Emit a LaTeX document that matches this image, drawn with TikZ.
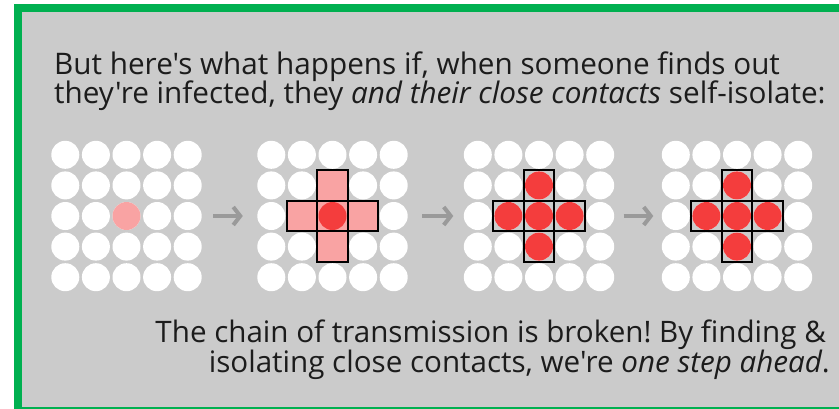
\documentclass[tikz,border=0pt]{standalone}
\usepackage{fontspec}
\newfontfamily\opensans{Open Sans}
\usetikzlibrary{arrows.meta,calc}
\frenchspacing
\definecolor{framegreen}{HTML}{00B050}
\definecolor{panelgray}{HTML}{CBCBCB}
\definecolor{contactpink}{HTML}{F9A3A3}
\definecolor{sickred}{HTML}{F43D3D}
\definecolor{arrowgray}{HTML}{9A9A9A}
\definecolor{inkgray}{HTML}{1C1C1C}
\tikzset{
  gridbox/.style={minimum size=153bp, inner sep=0pt},
  person/.style={fill=white},
  cell/.style={draw=black, line width=2bp},
  step arrow/.style={draw=arrowgray, line width=4bp, -{Straight Barb[length=7bp, width=18bp]}},
  headline/.style={font=\opensans\fontsize{29.8}{32}\selectfont, text=inkgray, inner sep=0pt, anchor=base west},
  footline/.style={font=\opensans\fontsize{29.7}{32}\selectfont, text=inkgray, inner sep=0pt, anchor=base east}
}
\begin{document}
\begin{tikzpicture}[x=1bp, y=-1bp]
  \useasboundingbox (0,0) rectangle (839,408);
  \draw[framegreen, line width=8bp, fill=panelgray] (18,8) rectangle (843,411);

  % text
  \node[headline] (head1) at (54,74) {But here's what happens if, when someone finds out};
  \node[headline] (head2) at (54,103) {they're infected, they \textit{and their close contacts} self-isolate:};
  \node[footline] (foot1) at (826,342) {The chain of transmission is broken! By finding \&};
  \node[footline] (foot2) at (830,372) {isolating close contacts, we're \textit{one step ahead}.};

  % four grids of people
  \foreach \g/\cx in {1/126.5, 2/332.5, 3/539, 4/737} {
    \node[gridbox] (grid\g) at (\cx,216) {};
    \foreach \i in {-2,...,2}
      \foreach \j in {-2,...,2}
        \fill[person] (\cx+\i*30.6, 216+\j*30.6) circle (14);
  }

  % grid 1: one case
  \fill[contactpink] (grid1.center) circle (14);

  % grid 2: case and contacts
  \foreach \dx/\dy in {0/0, 1/0, -1/0, 0/1, 0/-1}
    \fill[contactpink] ($(grid2.center)+(\dx*30.6-15.3, \dy*30.6-15.3)$) rectangle ++(30.6,30.6);
  \fill[sickred] (grid2.center) circle (14);
  \foreach \dx/\dy in {0/0, 1/0, -1/0, 0/1, 0/-1}
    \draw[cell] ($(grid2.center)+(\dx*30.6-15.3, \dy*30.6-15.3)$) rectangle ++(30.6,30.6);

  % grids 3 and 4: contacts isolated
  \foreach \g in {3,4}
    \foreach \dx/\dy in {0/0, 1/0, -1/0, 0/1, 0/-1} {
      \fill[sickred] ($(grid\g.center)+(\dx*30.6, \dy*30.6)$) circle (14);
      \draw[cell] ($(grid\g.center)+(\dx*30.6-15.3, \dy*30.6-15.3)$) rectangle ++(30.6,30.6);
    }

  % arrows
  \draw[step arrow, shorten <=10bp, shorten >=13bp] (grid1.east) -- (grid2.west);
  \draw[step arrow, shorten <=13bp, shorten >=9bp] (grid2.east) -- (grid3.west);
  \draw[step arrow, shorten <=8bp, shorten >=7bp] (grid3.east) -- (grid4.west);
\end{tikzpicture}
\end{document}
